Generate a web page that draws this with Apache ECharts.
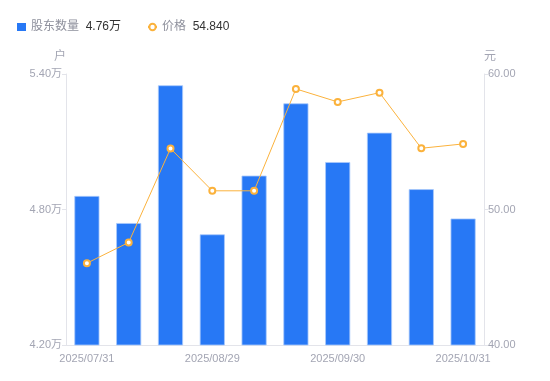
<!DOCTYPE html>
<html>
<head>
<meta charset="utf-8">
<script src="https://cdn.jsdelivr.net/npm/echarts@6/dist/echarts.min.js"></script>
<style>
html,body{margin:0;padding:0;background:#fff;}
#c{width:550px;height:381px;}
</style>
</head>
<body>
<div id="c"></div>
<script>
const categories = ['2025/07/31','2025/08/10','2025/08/20','2025/08/29','2025/09/10','2025/09/20','2025/09/30','2025/10/10','2025/10/20','2025/10/31'];
const holders = [4.86, 4.74, 5.35, 4.69, 4.95, 5.27, 5.01, 5.14, 4.89, 4.76];
const prices = [46.04, 47.57, 54.50, 51.38, 51.38, 58.90, 57.94, 58.62, 54.52, 54.84];
const leftTicks = {min: 4.2, max: 5.4, interval: 0.6};
const rightTicks = {min: 40, max: 60, interval: 10};
const legendValues = {'股东数量': '4.76万', '价格': '54.840'};

const font = 'Liberation Sans, Arial, "Noto Sans CJK SC", sans-serif';
const labelColor = '#a3a5b3';
const lineAxisColor = '#e3e4ea';

const chart = echarts.init(document.getElementById('c'), null, {renderer: 'canvas'});
chart.setOption({
  animation: false,
  textStyle: {fontFamily: font},
  legend: {
    left: 12, top: 16,
    itemGap: 26,
    itemWidth: 9, itemHeight: 8,
    data: [{name: '股东数量', icon: 'rect', itemStyle: {borderWidth: 0}}, {name: '价格'}],
    formatter: function (name) { return '{n|' + name + '}  {v|' + legendValues[name] + '}'; },
    textStyle: {
      fontFamily: font,
      rich: {
        n: {color: '#8e909c', fontSize: 12, fontFamily: font},
        v: {color: '#333333', fontSize: 12, fontFamily: font}
      }
    }
  },
  grid: {left: 66, right: 66, top: 74, bottom: 36, containLabel: false},
  xAxis: {
    type: 'category',
    data: categories,
    axisLine: {lineStyle: {color: lineAxisColor}},
    axisTick: {show: false},
    axisLabel: {interval: 2, color: labelColor, fontSize: 11, margin: 8, fontFamily: font}
  },
  yAxis: [{
    type: 'value',
    name: '户',
    nameGap: 11,
    nameTextStyle: {color: labelColor, fontSize: 12, align: 'right', fontFamily: font},
    min: leftTicks.min, max: leftTicks.max, interval: leftTicks.interval,
    axisLine: {show: true, lineStyle: {color: lineAxisColor}},
    axisTick: {show: true, length: 4, lineStyle: {color: lineAxisColor}},
    splitLine: {show: false},
    axisLabel: {color: labelColor, fontSize: 11, margin: 4, fontFamily: font,
      formatter: v => v.toFixed(2) + '万'}
  }, {
    type: 'value',
    name: '元',
    nameGap: 11,
    nameTextStyle: {color: labelColor, fontSize: 12, align: 'left', fontFamily: font},
    min: rightTicks.min, max: rightTicks.max, interval: rightTicks.interval,
    axisLine: {show: true, lineStyle: {color: lineAxisColor}},
    axisTick: {show: true, length: 4, lineStyle: {color: lineAxisColor}},
    splitLine: {show: false},
    axisLabel: {color: labelColor, fontSize: 11, margin: 4, fontFamily: font,
      formatter: v => v.toFixed(2)}
  }],
  series: [{
    name: '股东数量',
    type: 'bar',
    yAxisIndex: 0,
    data: holders,
    barWidth: '60%',
    itemStyle: {color: '#2778f5', borderColor: '#a9c9fb', borderWidth: 0.8}
  }, {
    name: '价格',
    type: 'line',
    yAxisIndex: 1,
    data: prices,
    symbol: 'emptyCircle',
    symbolSize: 6,
    lineStyle: {color: '#fbb23c', width: 1},
    itemStyle: {color: '#fbb23c', borderWidth: 2}
  }]
});
</script>
</body>
</html>
